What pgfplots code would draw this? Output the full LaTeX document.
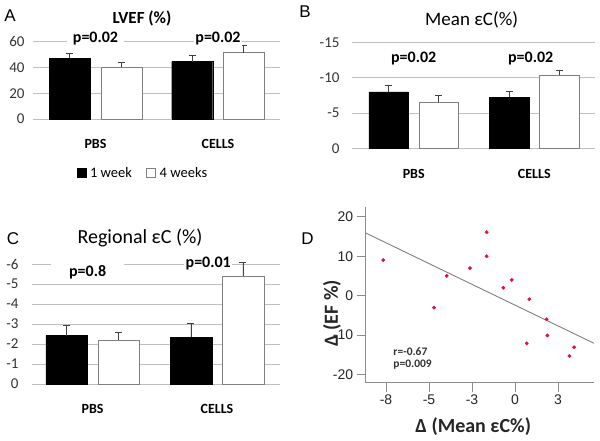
\documentclass[border=0pt]{standalone}
\usepackage{fontspec}
\setmainfont{Carlito}
\newfontfamily\arialf{Liberation Sans}
\usepackage{pgfplots}
\pgfplotsset{compat=1.18}
\definecolor{gridc}{HTML}{BFBFBF}
\definecolor{barc}{HTML}{808080}
\definecolor{errc}{HTML}{404040}
\definecolor{ptred}{HTML}{DC143C}
\definecolor{linec}{HTML}{7F7F7F}
\definecolor{axc}{HTML}{8C8C8C}

\pgfplotsset{
 barpanel/.style={
  scale only axis, anchor=south west, clip=false,
  axis line style={draw=none}, tick style={draw=none},
  ymajorgrids, grid style={gridc,line width=0.8bp},
  xtick={0,1}, xticklabels={PBS,CELLS},
  xticklabel style={font=\bfseries\fontsize{14bp}{16bp}\selectfont,yshift=-13bp},
  yticklabel style={font=\fontsize{15bp}{17bp}\selectfont,black!80},
  ybar, enlarge x limits=false,
  error bars/error bar style={errc,line width=0.8bp},
  error bars/error mark options={errc,line width=0.8bp,mark size=3.5bp,rotate=90},
 },
}
\tikzset{plabel/.style={font=\bfseries\fontsize{16bp}{18bp}\selectfont,fill=white,inner sep=1.5bp}}

\begin{document}
\begin{tikzpicture}[x=1bp,y=1bp]
\useasboundingbox (0,0) rectangle (600,441);

% ---- A: LVEF
\begin{axis}[barpanel, at={(33bp,322bp)}, width=247bp, height=77.3bp,
 xmin=-0.51, xmax=1.506, ymin=0, ymax=60, ytick={0,20,40,60},
 yticklabels={0,20,40,60}, yticklabel style={xshift=-5bp},
 bar width=41bp, ybar=10.6bp,
 legend columns=2,
 legend style={at={(0.445,-0.70)},anchor=center,draw=none,fill=none,
  font=\fontsize{14.5bp}{16bp}\selectfont,
  /tikz/every odd column/.append style={column sep=2bp},
  /tikz/every even column/.append style={column sep=12bp}}]
\addplot[fill=black,draw=black,
 legend image code/.code={\fill[black] (0bp,-4.5bp) rectangle (9bp,4.5bp);},
 error bars/.cd,y dir=plus,y explicit]
 coordinates {(0,47) +- (0,4) (1,44.5) +- (0,5.2)};
\addplot[fill=white,draw=barc,
 legend image code/.code={\draw[barc,fill=white,line width=0.8bp] (0bp,-4.5bp) rectangle (9bp,4.5bp);},
 error bars/.cd,y dir=plus,y explicit]
 coordinates {(0,40) +- (0,4) (1,51.5) +- (0,6)};
\legend{1 week,4 weeks}
\node[plabel,inner xsep=6bp] at (axis cs:0,62.1) {p=0.02};
\node[plabel] at (axis cs:1,62.1) {p=0.02};
\end{axis}

% ---- B: Mean eC
\begin{axis}[barpanel, at={(351.7bp,292.7bp)}, width=243.3bp, height=105.6bp,
 xmin=-0.514, xmax=1.503, ymin=-15, ymax=0, y dir=reverse,
 ytick={-15,-10,-5,0}, yticklabels={-15,-10,-5,0}, yticklabel style={xshift=-8.7bp},
 bar width=39.5bp, ybar=10.5bp]
\addplot[fill=black,draw=black,error bars/.cd,y dir=minus,y explicit]
 coordinates {(0,-8.0) +- (0,1.0) (1,-7.24) +- (0,0.8)};
\addplot[fill=white,draw=barc,error bars/.cd,y dir=minus,y explicit]
 coordinates {(0,-6.6) +- (0,0.9) (1,-10.4) +- (0,0.7)};
\node[plabel] at (axis cs:0,-12.7) {p=0.02};
\node[plabel] at (axis cs:0.97,-12.7) {p=0.02};
\end{axis}

% ---- C: Regional eC
\begin{axis}[barpanel, at={(31.7bp,57bp)}, width=248.3bp, height=120bp,
 xmin=-0.49, xmax=1.507, ymin=-6, ymax=0, y dir=reverse,
 ytick={-6,-5,-4,-3,-2,-1,0}, yticklabels={-6,-5,-4,-3,-2,-1,0},
 yticklabel style={xshift=-9.7bp},
 bar width=41.7bp, ybar=10.3bp]
\addplot[fill=black,draw=black,error bars/.cd,y dir=minus,y explicit]
 coordinates {(0,-2.42) +- (0,0.53) (1,-2.33) +- (0,0.7)};
\addplot[fill=white,draw=barc,error bars/.cd,y dir=minus,y explicit]
 coordinates {(0,-2.2) +- (0,0.37) (1,-5.4) +- (0,0.68)};
\node[plabel,inner xsep=18bp] at (axis cs:-0.04,-5.6) {p=0.8};
\node[plabel] at (axis cs:0.93,-6.02) {p=0.01};
\end{axis}

% ---- D: scatter
\begin{axis}[scale only axis, anchor=south west, at={(365.7bp,58.3bp)},
 width=228.3bp, height=175.7bp, clip=false,
 xmin=-8.68, xmax=4.59, ymin=-22.1, ymax=22.5,
 axis x line*=bottom, axis y line*=left,
 axis line style={axc,line width=0.9bp,-},
 tick style={axc,line width=0.9bp}, tick align=outside, major tick length=9bp,
 xtick={-7.5,-5,-2.5,0,2.5}, xticklabels={-8,-5,-3,0,3},
 ytick={-20,-10,0,10,20}, yticklabels={-20,-10,0,10,20},
 ticklabel style={font=\arialf\fontsize{14bp}{16bp}\selectfont,black!85},
 xlabel={Δ (Mean εC\%)}, ylabel={Δ (EF \%)},
 label style={font=\bfseries\fontsize{20bp}{22bp}\selectfont,black!85},
 xlabel style={at={(axis description cs:0.471,-0.25)},anchor=center},
 ylabel style={at={(axis description cs:-0.148,0.395)},anchor=center}]
\addplot[linec,line width=0.9bp,no marks] coordinates {(-8.68,15.9) (4.59,-12.1)};
\addplot[only marks,mark=*,mark size=1.7bp,ptred] coordinates {
 (-7.66,9.0) (-4.71,-3.05) (-3.97,5.0) (-2.62,7.0) (-1.65,16.1) (-1.65,10.0)
 (-0.68,2.0) (-0.19,4.0) (0.83,-0.9) (0.68,-12.1) (1.84,-6.0) (1.88,-10.1)
 (3.16,-15.3) (3.43,-13.1)};
\node[anchor=west,font=\bfseries\fontsize{11.5bp}{13bp}\selectfont,black!80]
 at (axis cs:-7.27,-14.25) {r=-0.67};
\node[anchor=west,font=\bfseries\fontsize{11.5bp}{13bp}\selectfont,black!80]
 at (axis cs:-7.27,-17.6) {p=0.009};
\end{axis}

% titles and panel letters
\node[font=\bfseries\fontsize{17bp}{19bp}\selectfont] at (142bp,422.7bp) {LVEF (\%)};
\node[font=\fontsize{19bp}{21bp}\selectfont] at (471.7bp,421bp) {Mean εC(\%)};
\node[font=\fontsize{20bp}{22bp}\selectfont] at (140bp,202.7bp) {Regional εC (\%)};
\node[font=\arialf\fontsize{17bp}{19bp}\selectfont] at (10bp,425.2bp) {A};
\node[font=\arialf\fontsize{17bp}{19bp}\selectfont] at (305bp,429.5bp) {B};
\node[font=\arialf\fontsize{17bp}{19bp}\selectfont] at (13bp,202bp) {C};
\node[font=\arialf\fontsize{17bp}{19bp}\selectfont] at (307.5bp,202.7bp) {D};
\end{tikzpicture}
\end{document}
